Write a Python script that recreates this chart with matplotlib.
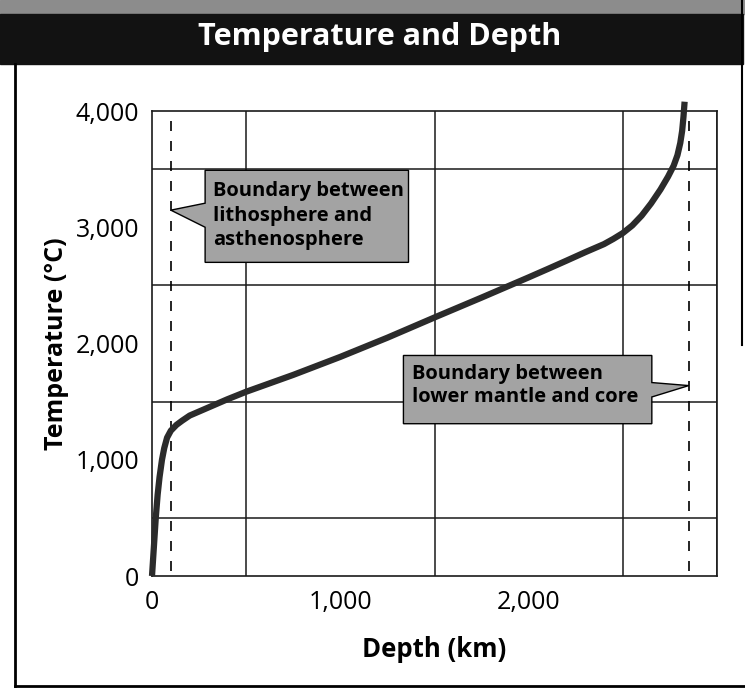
import numpy as np
import matplotlib.pyplot as plt
from matplotlib.patches import Polygon, Rectangle
from matplotlib.lines import Line2D

plt.rcParams['font.family'] = ['Open Sans', 'DejaVu Sans']

# temperature profile
depth_km = [0, 10, 20, 30, 40, 53, 65, 80, 100, 130, 160, 200, 250, 300, 400,
            500, 750, 1000, 1250, 1500, 1750, 2000, 2100, 2200, 2300, 2400,
            2450, 2500, 2550, 2600, 2650, 2700, 2740, 2770, 2790, 2805, 2815,
            2822, 2828]
temp_c = [0, 250, 500, 700, 850, 1000, 1100, 1190, 1250, 1300, 1336, 1380,
          1415, 1450, 1520, 1585, 1730, 1885, 2050, 2224, 2395, 2569, 2640,
          2712, 2785, 2855, 2900, 2950, 3015, 3100, 3205, 3325, 3435, 3530,
          3620, 3725, 3830, 3950, 4080]

# boundaries (dashed lines)
boundary_depths = [100, 2850]
boundary_labels = ["Boundary between\nlithosphere and\nasthenosphere",
                   "Boundary between\nlower mantle and core"]

x_ticks = [0, 1000, 2000]
x_tick_labels = ["0", "1,000", "2,000"]
y_ticks = [0, 1000, 2000, 3000, 4000]
y_tick_labels = ["0", "1,000", "2,000", "3,000", "4,000"]

W, H = 745, 691
fig = plt.figure(figsize=(W / 100, H / 100), dpi=100)

def fx(px):
    return px / W

def fy(py):
    return 1 - py / H

# title bar
fig.patches.append(Rectangle((fx(0), fy(14)), 1, 14 / H, transform=fig.transFigure,
                             color='#8c8c8c', zorder=0))
fig.patches.append(Rectangle((fx(0), fy(64)), fx(743), 50 / H, transform=fig.transFigure,
                             color='#121212', zorder=0))
fig.text(fx(380), fy(37), "Temperature and Depth", color='white', fontsize=22,
         fontweight='bold', ha='center', va='center')

# page frame lines
fig.lines.append(Line2D([fx(15), fx(15)], [fy(64), fy(686)], transform=fig.transFigure,
                        color='black', lw=2))
fig.lines.append(Line2D([fx(15), fx(745)], [fy(686), fy(686)], transform=fig.transFigure,
                        color='black', lw=2))
fig.lines.append(Line2D([fx(742), fx(742)], [fy(0), fy(345)], transform=fig.transFigure,
                        color='black', lw=1.5))

ax = fig.add_axes([fx(152), fy(576), fx(717) - fx(152), fy(111) - fy(576)])
ax.set_xlim(0, 3000)
ax.set_ylim(0, 4000)

ax.set_xticks(x_ticks)
ax.set_xticklabels(x_tick_labels)
ax.set_yticks(y_ticks)
ax.set_yticklabels(y_tick_labels)
ax.set_xticks(np.arange(0, 3001, 500), minor=True)
ax.set_yticks(np.arange(0, 4001, 500), minor=True)
ax.tick_params(which='both', length=0, labelsize=18)
ax.tick_params(axis='y', pad=9)
ax.tick_params(axis='x', pad=10)
ax.grid(which='minor', color='#1a1a1a', lw=1.1)
for s in ax.spines.values():
    s.set_color('#1a1a1a')
    s.set_linewidth(1.2)

ax.set_xlabel("Depth (km)", fontsize=18.5, fontweight='bold', labelpad=15)
ax.set_ylabel("Temperature (°C)", fontsize=18, fontweight='bold', labelpad=5)

for d in boundary_depths:
    ax.plot([d, d], [40, 4000], color='black', lw=1.2, dashes=(6, 6), zorder=3,
            clip_on=False)

ax.plot(depth_km, temp_c, color='#2b2b2b', lw=4.5, solid_capstyle='butt',
        solid_joinstyle='round', zorder=4, clip_on=False)

# callouts
box_fill = '#a3a3a3'
callout1 = [(282, 3490), (1362, 3490), (1362, 2698), (282, 2698), (282, 3000),
            (boundary_depths[0], 3147), (282, 3207)]
callout2 = [(1335, 1897), (2654, 1897), (2654, 1664), (boundary_depths[1], 1638),
            (2654, 1540), (2654, 1310), (1335, 1310)]
for pts in (callout1, callout2):
    ax.add_patch(Polygon(pts, closed=True, facecolor=box_fill, edgecolor='black',
                         lw=1, zorder=5))
ax.text(325, 3395, boundary_labels[0], fontsize=14.5, fontweight='bold', va='top',
        ha='left', linespacing=1.3, zorder=6)
ax.text(1380, 1825, boundary_labels[1], fontsize=14.5, fontweight='bold', va='top',
        ha='left', linespacing=1.2, zorder=6)

fig.savefig("out.png", dpi=100)
